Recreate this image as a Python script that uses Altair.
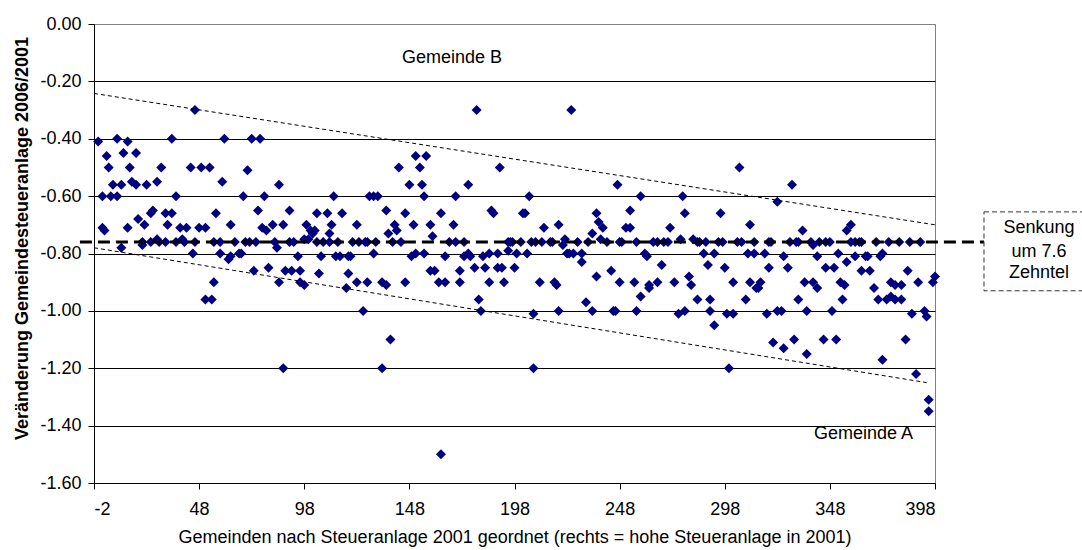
import altair as alt
import pandas as pd

# Municipalities ranked by their 2001 tax rate (x) and the change of the
# municipal tax rate 2006 vs. 2001 (y), listed in six blocks from left to right.
rank_1 = [0, 2, 2, 3, 4, 5, 6, 7, 9, 9, 11, 11, 12, 14, 14, 15, 16, 18, 18, 19,
          21, 21, 22, 23, 25, 25, 26, 28, 28, 29, 30, 32, 32, 33, 35, 35, 37, 37, 39, 40,
          41, 42, 44, 45, 46, 46, 48, 49, 51, 51, 53, 54, 55, 55, 56, 58, 58, 59, 60, 62,
          63, 63, 65, 67, 68, 69, 70, 71]
change_1 = [-0.41, -0.71, -0.60, -0.72, -0.46, -0.50, -0.60, -0.56, -0.40, -0.60,
            -0.78, -0.56, -0.45, -0.41, -0.71, -0.50, -0.55, -0.45, -0.56, -0.68,
            -0.76, -0.77, -0.70, -0.56, -0.76, -0.66, -0.65, -0.75, -0.55, -0.76,
            -0.50, -0.76, -0.66, -0.70, -0.40, -0.66, -0.60, -0.76, -0.71, -0.75,
            -0.76, -0.71, -0.50, -0.80, -0.76, -0.30, -0.71, -0.50, -0.71, -0.96,
            -0.50, -0.96, -0.76, -0.90, -0.66, -0.80, -0.76, -0.55, -0.40, -0.82,
            -0.81, -0.70, -0.76, -0.80, -0.80, -0.60, -0.76, -0.51]

rank_2 = [72, 73, 77, 74, 75, 76, 78, 79, 80, 81, 83, 84, 85, 86, 86, 88, 88, 89, 91, 91,
          92, 93, 95, 96, 96, 98, 98, 99, 100, 101, 102, 103, 104, 104, 105, 106, 107, 109, 110, 110,
          111, 112, 113, 114, 115, 116, 118, 119, 119, 120, 121, 123, 123, 124, 126, 127, 128, 128, 129, 131,
          131, 133, 132, 135, 135, 137, 137, 138, 139, 140, 141, 143]
change_2 = [-0.76, -0.40, -0.40, -0.86, -0.76, -0.65, -0.71, -0.60, -0.72, -0.85,
            -0.70, -0.76, -0.78, -0.90, -0.56, -0.70, -1.20, -0.86, -0.65, -0.76,
            -0.86, -0.76, -0.81, -0.86, -0.90, -0.75, -0.91, -0.70, -0.75, -0.72,
            -0.73, -0.72, -0.66, -0.76, -0.87, -0.81, -0.76, -0.66, -0.73, -0.76,
            -0.70, -0.60, -0.81, -0.76, -0.81, -0.66, -0.92, -0.81, -0.87, -0.81,
            -0.76, -0.90, -0.70, -0.76, -1.00, -0.76, -0.90, -0.76, -0.60, -0.80,
            -0.60, -0.60, -0.76, -1.20, -0.90, -0.91, -0.65, -0.73, -1.10, -0.76,
            -0.70, -0.50]

rank_3 = [142, 144, 146, 146, 148, 149, 150, 151, 151, 153, 154, 155, 155, 156, 158, 158, 159, 160, 162, 163,
          163, 165, 165, 167, 169, 170, 170, 172, 172, 174, 174, 176, 176, 177, 179, 180, 181, 182, 183, 184,
          186, 186, 187, 188, 190, 190, 191, 192, 193, 195, 195, 196, 197, 198, 199, 201, 202, 203, 204, 205,
          206, 207, 207, 208, 210, 211, 212]
change_3 = [-0.72, -0.76, -0.66, -0.90, -0.56, -0.81, -0.70, -0.80, -0.46, -0.50,
            -0.56, -0.60, -0.80, -0.46, -0.70, -0.86, -0.74, -0.86, -0.90, -1.50,
            -0.66, -0.90, -0.81, -0.76, -0.70, -0.76, -0.60, -0.90, -0.86, -0.81,
            -0.76, -0.80, -0.56, -0.81, -0.85, -0.30, -0.96, -1.00, -0.81, -0.85,
            -0.90, -0.80, -0.65, -0.66, -0.80, -0.85, -0.50, -0.85, -0.90, -0.76,
            -0.79, -0.76, -0.76, -0.85, -0.80, -0.76, -0.66, -0.66, -0.80, -0.60,
            -0.76, -1.20, -1.01, -0.76, -0.90, -0.76, -0.71]

rank_4 = [215, 216, 217, 218, 219, 219, 221, 222, 223, 224, 226, 225, 228, 230, 230, 232, 233, 235, 235, 237,
          237, 238, 239, 240, 242, 244, 245, 246, 247, 248, 249, 248, 251, 253, 253, 255, 256, 256, 258, 258,
          260, 261, 262, 262, 264, 266, 266, 268, 269, 271, 272, 274, 276, 277, 278, 279, 279, 281, 282, 283,
          285, 285]
change_4 = [-0.76, -0.76, -0.90, -0.91, -1.00, -0.70, -0.77, -0.75, -0.80, -0.80,
            -0.80, -0.30, -0.76, -0.80, -0.83, -0.97, -0.76, -0.73, -1.00, -0.88,
            -0.66, -0.69, -0.75, -0.71, -0.76, -0.86, -1.00, -1.00, -0.56, -0.76,
            -0.76, -0.90, -0.71, -0.65, -0.71, -0.90, -0.76, -1.00, -0.95, -0.60,
            -0.80, -0.81, -0.91, -0.92, -0.76, -0.90, -0.76, -0.84, -0.76, -0.76,
            -0.71, -0.90, -1.01, -0.75, -0.60, -0.66, -1.00, -0.88, -0.91, -0.75,
            -0.76, -0.96]

rank_5 = [286, 289, 288, 290, 291, 291, 293, 293, 295, 296, 297, 298, 299, 302, 300, 302, 304, 306, 305, 308,
          309, 310, 310, 312, 312, 313, 314, 315, 317, 318, 319, 320, 319, 321, 323, 323, 325, 326, 326, 328,
          329, 330, 331, 332, 333, 333, 335, 336, 337, 337, 339, 340, 340, 342, 342, 343, 345, 346, 346, 348,
          349, 350, 351, 352, 353, 354, 355, 356, 356]
change_5 = [-0.76, -0.76, -0.80, -0.84, -1.00, -0.96, -1.05, -0.80, -0.76, -0.66,
            -0.76, -0.85, -1.01, -1.01, -1.20, -0.90, -0.76, -0.76, -0.50, -0.96,
            -0.80, -0.70, -0.90, -0.80, -0.76, -0.92, -0.92, -0.90, -0.80, -1.01,
            -0.76, -0.76, -0.85, -1.11, -0.62, -1.00, -1.00, -0.81, -1.13, -0.85,
            -0.76, -0.56, -1.10, -0.76, -0.96, -0.76, -0.72, -0.90, -1.15, -1.00,
            -0.76, -0.90, -0.77, -0.81, -0.92, -0.76, -1.10, -0.85, -0.76, -0.76,
            -1.00, -0.85, -1.10, -0.80, -0.90, -0.96, -0.91, -0.83, -0.72]

rank_6 = [358, 358, 360, 362, 363, 360, 363, 365, 366, 367, 369, 370, 371, 372, 373, 373, 375, 376, 377, 377,
          379, 379, 381, 382, 382, 384, 385, 386, 387, 389, 390, 391, 393, 394, 395, 395, 397, 398]
change_6 = [-0.70, -0.76, -0.76, -0.76, -0.76, -0.81, -0.86, -0.81, -0.81, -0.86,
            -0.92, -0.76, -0.96, -0.81, -0.80, -1.17, -0.96, -0.76, -0.90, -0.95,
            -0.91, -0.96, -0.76, -0.91, -0.96, -1.10, -0.86, -0.76, -1.01, -1.22,
            -0.90, -0.76, -1.00, -1.02, -1.31, -1.35, -0.90, -0.88]

ranks = rank_1 + rank_2 + rank_3 + rank_4 + rank_5 + rank_6
changes = change_1 + change_2 + change_3 + change_4 + change_5 + change_6
assert len(ranks) == len(changes)

# Average reduction and the two dotted corridor lines
avg_change = -0.76
upper_rank = [-2, 398]
upper_change = [-0.242, -0.70]
lower_rank = [-2, 394]
lower_change = [-0.78, -1.25]

x_ticks = [-2, 48, 98, 148, 198, 248, 298, 348, 398]
y_ticks = [0.0, -0.2, -0.4, -0.6, -0.8, -1.0, -1.2, -1.4, -1.6]

FONT = "Liberation Sans"

points = pd.DataFrame({"rang": ranks, "veraenderung": changes})
corridor = pd.DataFrame({
    "rang": upper_rank + lower_rank,
    "veraenderung": upper_change + lower_change,
    "linie": ["oben", "oben", "unten", "unten"],
})
avg_df = pd.DataFrame({"rang": [-8.7], "rang_end": [421.3], "veraenderung": [avg_change]})
box_df = pd.DataFrame({"rang": [421.3], "rang_end": [470.0],
                       "veraenderung": [-0.655], "veraenderung_end": [-0.93]})
box_text = pd.DataFrame({"rang": [447.5, 447.5, 447.5],
                         "veraenderung": [-0.71, -0.795, -0.868],
                         "label": ["Senkung", "um 7.6", "Zehntel"]})
notes = pd.DataFrame({"rang": [168.3, 364.0], "veraenderung": [-0.1185, -1.429],
                      "label": ["Gemeinde B", "Gemeinde A"]})

x_scale = alt.Scale(domain=[-2, 398], nice=False, zero=False)
y_scale = alt.Scale(domain=[-1.6, 0.0], nice=False, zero=False)

# plain hyphen for negative tick labels
x_label_expr = "replace(format(datum.value, 'd'), '\u2212', '-')"
y_label_expr = "replace(format(datum.value, '.2f'), '\u2212', '-')"

x_enc = alt.X("rang:Q", scale=x_scale, axis=alt.Axis(
    values=x_ticks, labelExpr=x_label_expr, grid=False,
    title="Gemeinden nach Steueranlage 2001 geordnet (rechts = hohe Steueranlage in 2001)",
    titleFontWeight="normal", titlePadding=10, labelPadding=11, tickSize=6))
y_enc = alt.Y("veraenderung:Q", scale=y_scale, axis=alt.Axis(
    values=y_ticks, labelExpr=y_label_expr, grid=True,
    gridColor={"condition": {"test": "datum.value === 0", "value": "#808080"}, "value": "#000000"},
    gridWidth=1,
    title="Veränderung Gemeindesteueranlage 2006/2001",
    titleFontWeight="bold", titlePadding=8, titleY=214, labelPadding=7, tickSize=6))

scatter = alt.Chart(points).mark_point(
    shape="diamond", filled=True, size=100, color="#000080", opacity=1
).encode(x=x_enc, y=y_enc)

corridor_lines = alt.Chart(corridor).mark_line(
    color="black", strokeWidth=1, strokeDash=[4, 3]
).encode(x="rang:Q", y="veraenderung:Q", detail="linie:N")

avg_rule = alt.Chart(avg_df).mark_rule(
    color="black", strokeWidth=3, strokeDash=[12, 6]
).encode(x="rang:Q", x2="rang_end", y="veraenderung:Q")

box = alt.Chart(box_df).mark_rect(
    fill="white", stroke="#333333", strokeWidth=1, strokeDash=[5, 3]
).encode(x="rang:Q", x2="rang_end", y="veraenderung:Q", y2="veraenderung_end")

box_labels = alt.Chart(box_text).mark_text(
    font=FONT, fontSize=18, color="black", align="center", baseline="middle"
).encode(x="rang:Q", y="veraenderung:Q", text="label:N")

note_labels = alt.Chart(notes).mark_text(
    font=FONT, fontSize=18, color="black", align="center", baseline="middle"
).encode(x="rang:Q", y="veraenderung:Q", text="label:N")

chart = alt.layer(
    scatter, corridor_lines, avg_rule, box, box_labels, note_labels
).properties(
    width=841, height=459,
    autosize=alt.AutoSizeParams(type="none"),
    padding={"left": 94, "top": 24, "right": 147, "bottom": 67},
    background="white",
).configure_view(
    stroke="#808080", strokeWidth=1
).configure_axis(
    labelFont=FONT, titleFont=FONT, labelFontSize=18, titleFontSize=18,
    labelColor="black", titleColor="black", domainColor="black",
    tickColor="black", domainWidth=1, tickWidth=1,
)

chart.save("out.html", embed_options={"renderer": "svg", "actions": False})
